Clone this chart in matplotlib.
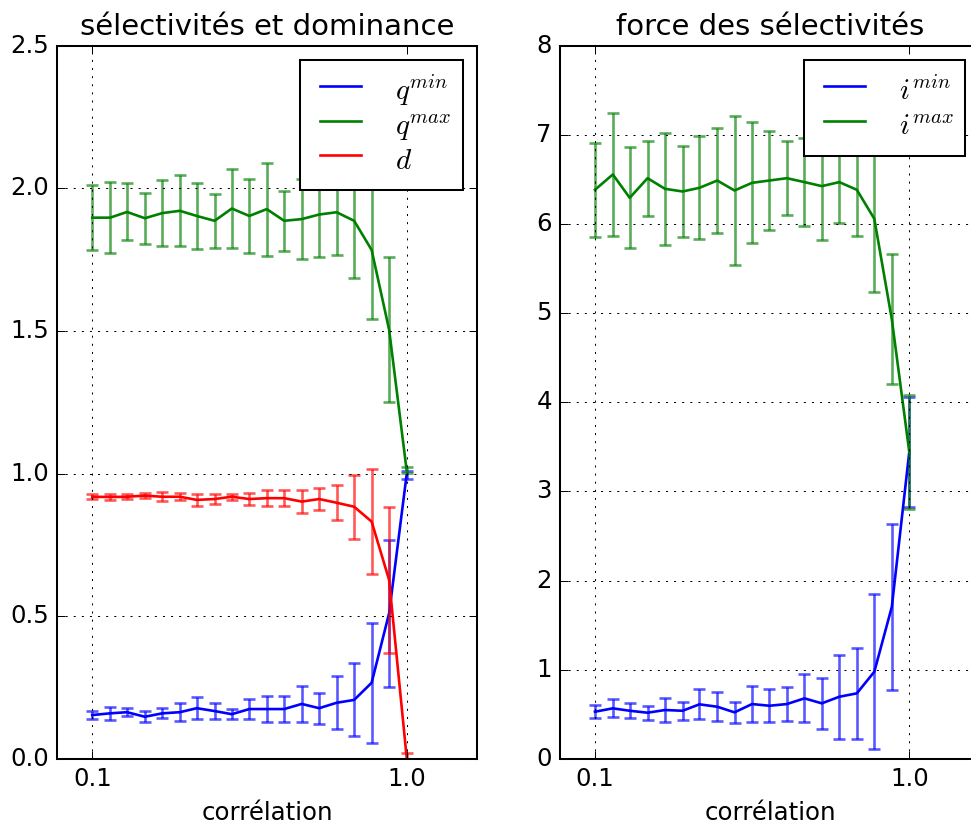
#!/usr/bin/env python3
"""Selectivities and dominance vs correlation, two panels with error bars."""

import matplotlib

matplotlib.use("Agg")
import matplotlib.pyplot as plt
from matplotlib.ticker import NullLocator

plt.style.use("classic")

# correlation values (log-spaced between 0.1 and 1)
corr = [0.100, 0.114, 0.129, 0.147, 0.167, 0.190, 0.215, 0.245, 0.278, 0.316,
        0.359, 0.408, 0.464, 0.527, 0.599, 0.681, 0.774, 0.880, 1.000]

# left panel
q_min = [0.154, 0.160, 0.164, 0.148, 0.160, 0.164, 0.178, 0.168, 0.157, 0.175,
         0.175, 0.175, 0.193, 0.178, 0.197, 0.207, 0.267, 0.511, 0.995]
q_min_err = [0.013, 0.022, 0.014, 0.020, 0.018, 0.031, 0.038, 0.029, 0.018, 0.034,
             0.047, 0.047, 0.064, 0.055, 0.093, 0.128, 0.210, 0.257, 0.013]
q_max = [1.897, 1.897, 1.917, 1.895, 1.913, 1.921, 1.903, 1.886, 1.929, 1.903,
         1.927, 1.886, 1.892, 1.908, 1.916, 1.886, 1.784, 1.504, 1.013]
q_max_err = [0.115, 0.125, 0.100, 0.090, 0.117, 0.124, 0.115, 0.095, 0.137, 0.130,
             0.163, 0.105, 0.140, 0.150, 0.150, 0.200, 0.242, 0.254, 0.010]
d = [0.919, 0.918, 0.919, 0.923, 0.919, 0.919, 0.908, 0.911, 0.919, 0.911,
     0.914, 0.914, 0.902, 0.911, 0.898, 0.884, 0.832, 0.627, 0.008]
d_err = [0.008, 0.010, 0.008, 0.009, 0.015, 0.013, 0.020, 0.017, 0.010, 0.022,
         0.027, 0.027, 0.041, 0.037, 0.062, 0.112, 0.183, 0.257, 0.012]

# right panel
i_min = [0.530, 0.568, 0.541, 0.519, 0.549, 0.541, 0.613, 0.586, 0.523, 0.616,
         0.597, 0.616, 0.680, 0.624, 0.698, 0.736, 0.978, 1.706, 3.443]
i_min_err = [0.070, 0.100, 0.085, 0.080, 0.130, 0.100, 0.170, 0.160, 0.115, 0.200,
             0.185, 0.190, 0.270, 0.285, 0.470, 0.510, 0.867, 0.930, 0.620]
i_max = [6.383, 6.555, 6.293, 6.513, 6.394, 6.364, 6.405, 6.487, 6.375, 6.461,
         6.487, 6.513, 6.469, 6.424, 6.469, 6.383, 6.058, 4.930, 3.443]
i_max_err = [0.525, 0.690, 0.566, 0.420, 0.626, 0.510, 0.577, 0.590, 0.840, 0.680,
             0.560, 0.415, 0.490, 0.600, 0.456, 0.520, 0.820, 0.730, 0.640]

left_series = [(q_min, q_min_err, "b", r"$q^{min}$"),
               (q_max, q_max_err, "g", r"$q^{max}$"),
               (d, d_err, "r", r"$d$")]
right_series = [(i_min, i_min_err, "b", r"$i^{min}$"),
                (i_max, i_max_err, "g", r"$i^{max}$")]

DPI = 146
fig = plt.figure(figsize=(971 / DPI, 820 / DPI), dpi=DPI)
ax0 = fig.add_axes([0.059, 0.0744, 0.4325, 0.870])
ax1 = fig.add_axes([0.5767, 0.0744, 0.4325, 0.870])


def draw(ax, series, title, ymax, yticks, yticklabels):
    for vals, err, col, lab in series:
        ax.errorbar(corr, vals, yerr=err, fmt="none", ecolor=col, alpha=0.65,
                    elinewidth=1.3, capthick=1.3)
        ax.plot(corr, vals, color=col, lw=1.3, label=lab)
    ax.set_xscale("log")
    ax.set_xlim(0.0774, 1.678)
    ax.set_ylim(0, ymax)
    ax.set_xticks([0.1, 1.0])
    ax.set_xticklabels(["0.1", "1.0"])
    ax.xaxis.set_minor_locator(NullLocator())
    ax.set_yticks(yticks)
    ax.set_yticklabels(yticklabels)
    ax.grid(True)
    ax.set_xlabel("corrélation")
    ax.set_title(title)
    leg = ax.legend(loc="upper right", labelspacing=-0.1, handleheight=1.6,
                    handletextpad=0.85, borderpad=0.4)
    for ln in leg.get_lines():
        ln.set_linewidth(1.3)


draw(ax0, left_series, "sélectivités et dominance", 2.5,
     [0, 0.5, 1.0, 1.5, 2.0, 2.5], ["0.0", "0.5", "1.0", "1.5", "2.0", "2.5"])
draw(ax1, right_series, "force des sélectivités", 8,
     list(range(9)), [str(v) for v in range(9)])

fig.savefig("out.png", dpi=DPI)
